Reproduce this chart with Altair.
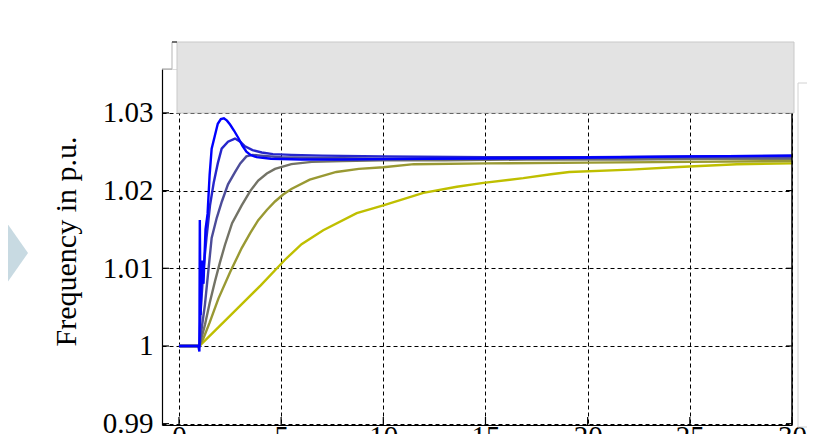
import altair as alt
import pandas as pd

# ---- data (time in s, frequency in p.u.) ----
T1 = [0, 0.95, 1.0, 1.02, 1.06, 1.12, 1.2, 1.3, 1.4, 1.5, 1.6, 1.75, 1.9, 2.05, 2.2, 2.35, 2.5, 2.7, 2.9, 3.1, 3.3, 3.5, 3.8, 4.5, 6, 8, 12, 18, 25, 30]
F1 = [1.0, 1.0, 0.9993, 1.0162, 1.004, 1.011, 1.008, 1.015, 1.017, 1.022, 1.0254, 1.027, 1.0286, 1.0292, 1.0293, 1.029, 1.0285, 1.0277, 1.0268, 1.0258, 1.025, 1.0246, 1.0243, 1.0241, 1.024, 1.024, 1.0241, 1.0242, 1.0244, 1.0245]

T2 = [0, 0.95, 1.0, 1.05, 1.19, 1.35, 1.52, 1.7, 1.9, 2.09, 2.4, 2.74, 3.0, 3.23, 3.6, 4.05, 4.6, 5.5, 7, 10, 15, 20, 25, 30]
F2 = [1.0, 1.0, 1.0, 1.004, 1.0096, 1.014, 1.0181, 1.021, 1.0235, 1.0254, 1.0263, 1.0267, 1.0263, 1.0257, 1.0252, 1.0249, 1.0247, 1.0246, 1.0245, 1.0244, 1.0243, 1.0243, 1.0244, 1.0245]

T3 = [0, 0.95, 1.0, 1.1, 1.27, 1.45, 1.6, 1.85, 2.1, 2.4, 2.75, 3.0, 3.3, 3.6, 4.0, 5, 7, 10, 15, 20, 25, 30]
F3 = [1.0, 1.0, 1.0, 1.002, 1.0053, 1.010, 1.0139, 1.0165, 1.0186, 1.0208, 1.0224, 1.0235, 1.0244, 1.0246, 1.0245, 1.0243, 1.0242, 1.0241, 1.0241, 1.0242, 1.0243, 1.0243]

T4 = [0, 0.95, 1.0, 1.1, 1.27, 1.5, 1.76, 2.0, 2.25, 2.6, 3.07, 3.5, 3.88, 4.3, 4.7, 5.5, 6.5, 8, 10, 13, 17, 22, 26, 30]
F4 = [1.0, 1.0, 1.0, 1.001, 1.0027, 1.0055, 1.0083, 1.0107, 1.013, 1.0158, 1.0181, 1.02, 1.0213, 1.0222, 1.0228, 1.0234, 1.0237, 1.0238, 1.0239, 1.0239, 1.024, 1.024, 1.0241, 1.0241]

T5 = [0, 0.95, 1.0, 1.2, 1.5, 1.93, 2.5, 3.07, 3.5, 3.88, 4.3, 4.7, 5.1, 5.5, 6.4, 7.7, 8.8, 10, 11.5, 15, 20, 25, 30]
F5 = [1.0, 1.0, 1.0, 1.001, 1.003, 1.0061, 1.0095, 1.0126, 1.0146, 1.0162, 1.0175, 1.0186, 1.0195, 1.0202, 1.0214, 1.0224, 1.0228, 1.023, 1.0234, 1.0235, 1.0236, 1.0237, 1.0238]

T6 = [0, 0.95, 1.0, 2.0, 3.0, 4.0, 5.19, 6.0, 7.06, 8.7, 10, 11.96, 13.6, 14.9, 16.85, 18.2, 19.1, 22.1, 24.2, 27.3, 30]
F6 = [1.0, 1.0, 1.0, 1.0026, 1.0052, 1.0078, 1.0111, 1.0131, 1.0149, 1.0171, 1.0181, 1.0197, 1.0205, 1.021, 1.0216, 1.0221, 1.0224, 1.0227, 1.023, 1.0234, 1.0235]

SERIES = ["s6", "s5", "s4", "s3", "s2", "s1"]          # drawing order: yellow first, blue last
COLORS = ["#bfbf00", "#999933", "#737366", "#4c4c99", "#2626cc", "#0000ff"]
X_TICKS = [0, 5, 10, 15, 20, 25, 30]
Y_TICKS = [0.99, 1.0, 1.01, 1.02, 1.03]
Y_TITLE = "Frequency in p.u."

X_DOMAIN = [-0.83, 30]
Y_DOMAIN = [0.98983, 1.03565]

data = {"s1": (T1, F1), "s2": (T2, F2), "s3": (T3, F3),
        "s4": (T4, F4), "s5": (T5, F5), "s6": (T6, F6)}
rows = []
for k, name in enumerate(SERIES):
    ts, fs = data[name]
    for i, (t, f) in enumerate(zip(ts, fs)):
        rows.append({"t": t, "f": f, "series": name, "k": k, "i": i})
df = pd.DataFrame(rows)

FONT = "Liberation Serif"
W, H = 630, 356

xs = alt.Scale(domain=X_DOMAIN, nice=False, zero=False)
ys = alt.Scale(domain=Y_DOMAIN, nice=False, zero=False)

base_axes = alt.Chart(pd.DataFrame({"t": [0], "f": [1.0]})).mark_point(opacity=0).encode(
    x=alt.X("t:Q", scale=xs, axis=alt.Axis(values=X_TICKS, title=None, grid=True,
                                           tickSize=0, labelPadding=-3, labelFont=FONT,
                                           labelFontSize=29, labelColor="#000",
                                           domainColor="#000", domainWidth=1.2,
                                           gridColor="#000", gridDash=[4, 3], gridWidth=1,
                                           gridOpacity=1, labelFlush=False)),
    y=alt.Y("f:Q", scale=ys, axis=alt.Axis(values=Y_TICKS, title=Y_TITLE, grid=True,
                                           tickSize=0, labelPadding=9, labelFont=FONT,
                                           labelFontSize=29, labelColor="#000",
                                           labelExpr="format(datum.value, '.2~f')",
                                           domainColor="#000", domainWidth=1.2,
                                           gridColor="#000", gridDash=[4, 3], gridWidth=1,
                                           gridOpacity=1, titleFont=FONT, titleFontSize=30,
                                           titleFontWeight="normal", titleColor="#000",
                                           titleX=-87, titleY=172, titleAngle=270,
                                           titleAlign="center", titleBaseline="alphabetic",
                                           labelFlush=False)),
)

lines = alt.Chart(df).mark_line(strokeWidth=2.4, clip=True).encode(
    x=alt.X("t:Q", scale=xs),
    y=alt.Y("f:Q", scale=ys),
    color=alt.Color("series:N", scale=alt.Scale(domain=SERIES, range=COLORS), legend=None),
    detail="series:N",
    order="i:Q",
)

xt = alt.Chart(pd.DataFrame({"t": X_TICKS})).mark_rule(color="#000", strokeWidth=1.2).encode(
    x=alt.X("t:Q", scale=xs), y=alt.value(H), y2=alt.value(H - 8))
ytl = alt.Chart(pd.DataFrame({"f": Y_TICKS})).mark_rule(color="#000", strokeWidth=1.2).encode(
    y=alt.Y("f:Q", scale=ys), x=alt.value(0), x2=alt.value(7))
ytr = alt.Chart(pd.DataFrame({"f": Y_TICKS})).mark_rule(color="#000", strokeWidth=1.2).encode(
    y=alt.Y("f:Q", scale=ys), x=alt.value(W - 6), x2=alt.value(W))

right_spine = alt.Chart(pd.DataFrame({"a": [0]})).mark_rule(color="#000", strokeWidth=1.5).encode(
    x=alt.value(W), y=alt.value(44), y2=alt.value(H))

gray_box = alt.Chart(pd.DataFrame({"a": [0]})).mark_rect(
    fill="#e3e3e3", stroke="#c9c9c9", strokeWidth=1).encode(
    x=alt.value(15), x2=alt.value(632), y=alt.value(-27), y2=alt.value(44))

frame_h = alt.Chart(pd.DataFrame({"a": [0]})).mark_rule(color="#9a9a9a", strokeWidth=1).encode(
    x=alt.value(0), x2=alt.value(10), y=alt.value(0))
frame_v = alt.Chart(pd.DataFrame({"a": [0]})).mark_rule(color="#b5b5b5", strokeWidth=1).encode(
    x=alt.value(10), y=alt.value(-27), y2=alt.value(0))
frame_t = alt.Chart(pd.DataFrame({"a": [0]})).mark_rule(color="#444", strokeWidth=1.5).encode(
    x=alt.value(10), x2=alt.value(15), y=alt.value(-27))

right_box = alt.Chart(pd.DataFrame({"a": [0]})).mark_rect(
    fill="#ffffff", stroke="#d2d2d2", strokeWidth=1).encode(
    x=alt.value(636), x2=alt.value(700), y=alt.value(14), y2=alt.value(358))

chevron = alt.Chart(pd.DataFrame({"a": [0]})).mark_point(
    shape="M -1 -1 L -0.3 0 L -1 1 Z", filled=True, fill="#c8dae2", opacity=1,
    strokeWidth=0, size=6400).encode(x=alt.value(-122), y=alt.value(184))

chart = alt.layer(
    base_axes, lines, xt, ytl, ytr, right_spine, gray_box,
    frame_h, frame_v, frame_t, right_box, chevron
).properties(
    width=W, height=H,
    autosize=alt.AutoSizeParams(type="none"),
    padding={"left": 154, "top": 61, "right": 15, "bottom": 9},
).configure_view(stroke="transparent").configure(background="#ffffff")

chart.save("out.html", embed_options={"renderer": "svg", "actions": False})
